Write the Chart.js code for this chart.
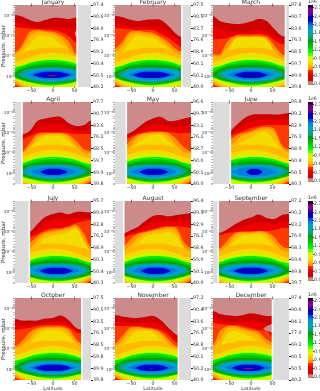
<!DOCTYPE html>
<html lang="en">
<head>
  <meta charset="UTF-8" />
  <title>Monthly pressure-latitude contours</title>
  <script src="https://cdn.jsdelivr.net/npm/chart.js"></script>
  <style>
    html, body { margin: 0; padding: 0; background: #fff; }
    #page { position: relative; width: 320px; height: 391px; overflow: hidden; background: #fff; }
    canvas { position: absolute; filter: blur(0.35px); }
  </style>
</head>
<body>
  <div id="page"></div>
  <script>
    const months = ["January", "February", "March", "April", "May", "June", "July", "August", "September", "October", "November", "December"];
    const lats = [-88, -72, -54, -36, -18, 0, 18, 36, 54, 72, 88];

    // upper edge of each band, log10(pressure) at each latitude
    // last row of each month is the top of the yellow lobe
    const janBands = [
      [-3.05, -2.97, -2.8, -2.7, -2.8, -2.9, -2.9, -2.85, -2.92, -2.95, -2.95],
      [-2.7, -2.63, -2.5, -2.42, -2.42, -2.45, -2.45, -2.42, -2.35, -2.3, -2.3],
      [-2.45, -2.4, -2.37, -2.35, -2.32, -2.3, -2.2, -2, -1.65, -1.6, -1.6],
      [-1.2, -1.55, -2.2, -2.3, -2.25, -2.2, -2.05, -1.75, -1.1, -1.1, -1.1],
      [-1.1, -1.4, -2, -2.2, -2.2, -2.1, -1.9, -1.4, -1, -1, -1],
      [-0.95, -1.1, -1.6, -2, -2, -1.9, -1.6, -1.15, -0.85, -0.8, -0.8]
    ];
    const febBands = [
      [-3, -2.95, -2.82, -2.75, -2.8, -2.82, -2.8, -2.5, -2.1, -1.88, -1.88],
      [-2.65, -2.6, -2.5, -2.45, -2.45, -2.45, -2.4, -2.15, -1.9, -1.7, -1.7],
      [-2.4, -2.38, -2.35, -2.3, -2.3, -2.3, -2.1, -1.9, -1.6, -1.4, -1.4],
      [-1.4, -1.7, -2.2, -2.25, -2.2, -2.15, -1.95, -1.7, -1.35, -1.2, -1.2],
      [-1.2, -1.5, -2.05, -2.15, -2.1, -2.05, -1.85, -1.5, -1.15, -1.05, -1.05],
      [-1, -1.2, -1.7, -2, -1.95, -1.9, -1.65, -1.25, -0.9, -0.85, -0.85]
    ];
    const marBands = [
      [-3, -2.75, -2.65, -2.6, -2.63, -2.72, -2.85, -2.75, -2.35, -2, -2],
      [-2.5, -2.35, -2.25, -2.2, -2.2, -2.25, -2.3, -2.2, -2, -1.75, -1.75],
      [-1.85, -1.85, -1.9, -2.05, -2.1, -2.1, -2.1, -2.05, -1.8, -1.6, -1.6],
      [-1.1, -1.1, -1.75, -2, -2.02, -2.02, -2.02, -1.95, -1.55, -1.1, -1.1],
      [-1, -1, -1.45, -1.9, -1.95, -1.95, -1.95, -1.85, -1.3, -0.95, -0.95],
      [-0.9, -0.9, -1.25, -1.85, -1.95, -1.95, -1.95, -1.8, -1.2, -0.85, -0.85]
    ];
    const aprBands = [
      [-1.93, -1.93, -2.1, -2.6, -2.72, -2.8, -2.8, -2.5, -2.35, -2.4, -2.62],
      [-1.8, -1.8, -1.95, -2.3, -2.4, -2.45, -2.45, -2.25, -2.1, -2.1, -2.2],
      [-1.7, -1.7, -1.85, -2, -2.05, -2.05, -2.05, -2, -1.95, -1.95, -1.95],
      [-1.05, -1.05, -1.5, -1.95, -2, -2, -2, -1.9, -1.6, -1.2, -1.1],
      [-0.98, -1, -1.3, -1.8, -1.92, -1.95, -1.95, -1.8, -1.35, -1, -1],
      [-0.9, -0.9, -1.1, -1.6, -1.85, -1.87, -1.87, -1.6, -1.1, -0.9, -0.9]
    ];
    const mayBands = [
      [-1.85, -1.85, -2, -2.25, -2.55, -2.72, -2.8, -2.6, -2.62, -2.72, -2.78],
      [-1.75, -1.75, -1.85, -2.05, -2.3, -2.4, -2.45, -2.35, -2.3, -2.35, -2.35],
      [-1.65, -1.65, -1.8, -1.95, -2.05, -2.1, -2.1, -2.05, -2, -2, -2],
      [-1.1, -1.1, -1.6, -1.9, -2, -2.05, -2.05, -2, -1.7, -1.3, -1.1],
      [-1, -1, -1.3, -1.8, -1.95, -2, -2, -1.85, -1.4, -1.05, -1],
      [-0.9, -0.9, -1.1, -1.5, -1.8, -1.9, -1.9, -1.6, -1.1, -0.9, -0.9]
    ];
    const junBands = [
      [-2, -2, -2, -2.35, -2.7, -2.9, -2.93, -2.93, -2.92, -2.95, -3],
      [-1.9, -1.9, -1.9, -2.1, -2.35, -2.55, -2.65, -2.65, -2.65, -2.7, -2.72],
      [-1.8, -1.8, -1.8, -1.95, -2.1, -2.25, -2.35, -2.4, -2.4, -2.4, -2.4],
      [-1.6, -1.6, -1.6, -1.85, -2, -2.1, -2.25, -2.3, -2.2, -1.4, -1.2],
      [-1.3, -1.3, -1.3, -1.6, -1.9, -2, -2.15, -2.2, -2.05, -1.25, -1.05],
      [-1.1, -1.1, -1.1, -1.3, -1.6, -1.8, -2, -2.05, -1.6, -1, -0.85]
    ];
    const julBands = [
      [-2, -2, -2, -2.4, -2.75, -2.9, -2.97, -2.88, -3, -3, -2.97],
      [-1.9, -1.9, -1.9, -2.1, -2.45, -2.6, -2.65, -2.65, -2.7, -2.7, -2.7],
      [-1.75, -1.75, -1.75, -1.9, -2.1, -2.2, -2.2, -2.3, -2.45, -2.55, -2.6],
      [-1.5, -1.5, -1.5, -1.8, -2, -2.1, -2.15, -2.25, -2.35, -1.9, -1.3],
      [-1.15, -1.15, -1.15, -1.6, -1.9, -2, -2.05, -2.15, -2.25, -1.6, -1.1],
      [-1, -1, -1, -1.3, -1.7, -1.85, -1.9, -2, -2.15, -1.55, -0.95]
    ];
    const augBands = [
      [-1.9, -1.9, -2.07, -2.25, -2.55, -2.8, -2.85, -2.78, -2.85, -2.9, -2.95],
      [-1.8, -1.8, -1.95, -2.05, -2.3, -2.5, -2.55, -2.55, -2.55, -2.6, -2.6],
      [-1.7, -1.7, -1.85, -1.95, -2.05, -2.15, -2.25, -2.3, -2.3, -2.25, -2.2],
      [-1.2, -1.2, -1.6, -1.9, -2, -2.1, -2.2, -2.25, -2.2, -1.5, -1.2],
      [-1.05, -1.05, -1.3, -1.7, -1.95, -2.05, -2.1, -2.15, -2.05, -1.25, -1.05],
      [-0.9, -0.9, -1.1, -1.45, -1.8, -1.9, -1.95, -2, -1.8, -1.05, -0.9]
    ];
    const sepBands = [
      [-1.95, -1.95, -2.15, -2.4, -2.6, -2.72, -2.87, -2.7, -2.65, -2.85, -2.9],
      [-1.85, -1.85, -2, -2.15, -2.3, -2.4, -2.5, -2.45, -2.4, -2.5, -2.55],
      [-1.8, -1.85, -1.95, -2, -2.05, -2.05, -2.05, -2.05, -2.1, -2.2, -2.2],
      [-1.2, -1.2, -1.6, -1.95, -2, -2, -2.05, -2, -1.75, -1.3, -1.2],
      [-1.05, -1.05, -1.35, -1.85, -1.95, -1.95, -2, -1.9, -1.5, -1.1, -1],
      [-0.9, -0.9, -1.1, -1.6, -1.85, -1.87, -1.9, -1.7, -1.1, -0.9, -0.9]
    ];
    const octBands = [
      [-2.5, -2.42, -2.42, -2.42, -2.52, -2.55, -2.67, -2.45, -2.05, -1.95, -1.95],
      [-2.25, -2.2, -2.2, -2.25, -2.3, -2.35, -2.4, -2.25, -1.95, -1.8, -1.8],
      [-1.95, -2, -2.05, -2.15, -2.2, -2.2, -2.2, -2.1, -1.85, -1.75, -1.75],
      [-1.15, -1.4, -1.85, -2.05, -2.12, -2.12, -2.12, -2, -1.5, -1.2, -1.2],
      [-1.05, -1.2, -1.55, -1.95, -2.05, -2.05, -2.05, -1.85, -1.3, -1.05, -1.05],
      [-0.92, -1, -1.25, -1.75, -1.92, -1.95, -1.92, -1.65, -1.1, -0.9, -0.9]
    ];
    const novBands = [
      [-2.7, -2.63, -2.58, -2.55, -2.6, -2.65, -2.45, -2.05, -1.72, -1.55, -1.55],
      [-2.4, -2.35, -2.3, -2.3, -2.3, -2.35, -2.2, -1.9, -1.5, -1.4, -1.4],
      [-2.15, -2.15, -2.15, -2.15, -2.1, -2.05, -1.95, -1.7, -1.35, -1.2, -1.2],
      [-1.3, -1.65, -2.05, -2.1, -2.05, -2, -1.85, -1.5, -1.15, -1.1, -1.1],
      [-1.15, -1.4, -1.9, -2, -2, -1.95, -1.75, -1.3, -1.05, -1, -1],
      [-1, -1.15, -1.6, -1.9, -1.9, -1.85, -1.5, -1.1, -0.9, -0.85, -0.85]
    ];
    const decBands = [
      [-2.9, -2.75, -2.68, -2.65, -2.7, -2.78, -2.72, -2.65, -2.65, -2.65, -2.65],
      [-2.6, -2.45, -2.35, -2.35, -2.35, -2.4, -2.35, -2.2, -1.85, -1.8, -1.8],
      [-2.3, -2.25, -2.2, -2.2, -2.15, -2.05, -1.95, -1.9, -1.5, -1.5, -1.5],
      [-1.25, -1.9, -2.15, -2.15, -2.05, -1.95, -1.85, -1.5, -1.3, -1.2, -1.2],
      [-1.1, -1.5, -2.05, -2.05, -1.95, -1.85, -1.7, -1.3, -1.15, -1.1, -1.1],
      [-0.95, -1.2, -1.8, -1.9, -1.8, -1.65, -1.4, -1.05, -0.95, -0.9, -0.9]
    ];
    const monthBands = [janBands, febBands, marBands, aprBands, mayBands, junBands, julBands, augBands, sepBands, octBands, novBands, decBands];

    // lower edges of the red to amber bands, only the corners show
    const lowerBands = [
      [0.7, 0.7, 0.7, 0.7, 0.7, 0.7, 0.7, 0.7, 0.7, 0.7, 0.7],
      [0.7, 0.7, 0.7, 0.7, 0.7, 0.7, 0.7, 0.7, 0.7, 0.7, 0.7],
      [0.46, 0.62, 0.7, 0.7, 0.7, 0.7, 0.7, 0.7, 0.7, 0.62, 0.46],
      [0.38, 0.55, 0.7, 0.7, 0.7, 0.7, 0.7, 0.7, 0.7, 0.55, 0.38],
      [0.3, 0.47, 0.62, 0.7, 0.7, 0.7, 0.7, 0.7, 0.62, 0.47, 0.3]
    ];
    const bandColors = ["#ce0000", "#ee0000", "#ff3a00", "#ff9200", "#ffba00"];

    const YELLOW = "#f4dc00";
    // underside of the yellow lobe, amber shows between it and the arc below
    const lobeBottom = [-1.1, -1.2, -1.3, -1.38, -1.42, -1.42, -1.42, -1.38, -1.3, -1.2, -1.1];
    const arcTop = [-0.72, -0.8, -0.95, -1.07, -1.14, -1.17, -1.14, -1.07, -0.95, -0.8, -0.72];
    const arcBottom = [0.2, 0.38, 0.53, 0.65, 0.7, 0.7, 0.7, 0.65, 0.53, 0.38, 0.2];
    const limeTop = [-0.52, -0.6, -0.75, -0.86, -0.93, -0.95, -0.93, -0.86, -0.75, -0.6, -0.52];
    const limeBottom = [0.1, 0.27, 0.43, 0.55, 0.62, 0.65, 0.62, 0.55, 0.43, 0.27, 0.1];

    // the closed contours round the maximum near 1 mbar
    const coreColors = ["#00ee00", "#00c700", "#00a200", "#00a880", "#00a0d8", "#007ddd"];
    const coreLats = [
      [-110, -72, -40, 0, 40, 72, 110],
      [-95, -72, -40, 0, 40, 72, 95],
      [-90, -70, -40, 0, 40, 70, 90],
      [-80, -62, -35, 0, 35, 62, 80],
      [-70, -52, -28, 0, 28, 52, 70],
      [-55, -40, -22, 0, 22, 40, 55]
    ];
    const coreTop = [
      [-0.3, -0.52, -0.73, -0.82, -0.73, -0.52, -0.3],
      [-0.1, -0.42, -0.62, -0.7, -0.62, -0.42, -0.1],
      [-0.1, -0.36, -0.52, -0.58, -0.52, -0.36, -0.1],
      [-0.1, -0.32, -0.43, -0.46, -0.43, -0.32, -0.1],
      [-0.1, -0.28, -0.36, -0.39, -0.36, -0.28, -0.1],
      [-0.1, -0.22, -0.29, -0.31, -0.29, -0.22, -0.1]
    ];
    const coreBottom = [
      [-0.05, 0.1, 0.33, 0.44, 0.33, 0.1, -0.05],
      [0, 0.17, 0.33, 0.39, 0.33, 0.17, 0],
      [-0.1, 0.12, 0.27, 0.34, 0.27, 0.12, -0.1],
      [-0.1, 0.1, 0.24, 0.3, 0.24, 0.1, -0.1],
      [-0.1, 0.07, 0.18, 0.23, 0.18, 0.07, -0.1],
      [-0.1, 0.03, 0.12, 0.15, 0.12, 0.03, -0.1]
    ];
    const coreCentre = [-3, -3, 0, 2, 2, 8, 8, 6, 0, 0, -3, -6];

    // innermost lenses, half width in degrees per month
    const deepWidths = [
      [43, 44, 39, 32, 34, 19, 39, 35, 40, 44, 39, 39],
      [25, 22, 30, 20, 16, 12, 25, 20, 30, 26, 22, 28],
      [10, 0, 0, 0, 0, 0, 0, 0, 0, 0, 3, 14]
    ];
    const deepColors = ["#0000d8", "#0000b6", "#850095"];
    const deepFrac = [-1, -0.6, 0, 0.6, 1];
    const deepTop = [
      [-0.08, -0.2, -0.23, -0.2, -0.08],
      [-0.05, -0.12, -0.15, -0.12, -0.05],
      [-0.04, -0.07, -0.08, -0.07, -0.04]
    ];
    const deepBottom = [
      [-0.08, 0.04, 0.08, 0.04, -0.08],
      [-0.05, 0.03, 0.05, 0.03, -0.05],
      [-0.04, -0.01, 0, -0.01, -0.04]
    ];

    // small patches of the lowest level inside the red
    const holeMonths = [0, 11];
    const holeLats = [[50, 53, 58, 58, 53, 50], [28, 38, 52, 52, 38, 28]];
    const holeValues = [[-2.15, -2.25, -2.25, -1.95, -1.98, -2.15], [-2.02, -2.15, -2.25, -1.85, -1.9, -2.02]];

    // where the measurements stop, the rest of each panel is grey
    const dataMin = [-88, -88, -88, -70, -60, -46, -53, -66, -74, -88, -88, -88];
    const dataMax = [54, 65, 78, 88, 88, 88, 88, 88, 88, 65, 57, 48];

    const altTicks = [
      ["97.4", "90.6", "84.0", "76.9", "69.1", "60.4", "50.5", "40.2"],
      ["97.5", "90.5", "83.7", "76.6", "68.9", "60.1", "50.1", "40.0"],
      ["97.8", "90.7", "83.6", "76.3", "68.5", "59.7", "49.9", "39.8"],
      ["97.7", "90.7", "83.6", "76.2", "68.5", "59.7", "49.9", "39.8"],
      ["96.6", "89.7", "83.1", "76.1", "68.7", "60.0", "50.1", "40.0"],
      ["95.8", "89.2", "82.9", "76.3", "68.9", "60.4", "50.5", "40.3"],
      ["95.7", "89.0", "82.8", "76.2", "68.9", "60.3", "50.4", "40.3"],
      ["96.4", "89.5", "82.9", "76.1", "68.6", "59.9", "50.1", "40.0"],
      ["97.2", "90.2", "83.2", "76.0", "68.3", "59.6", "49.8", "39.7"],
      ["97.5", "90.5", "83.5", "76.3", "68.5", "59.8", "49.9", "39.8"],
      ["97.2", "90.4", "83.6", "76.5", "68.8", "60.1", "50.2", "40.0"],
      ["97.4", "90.6", "84.1", "77.0", "69.2", "60.5", "50.5", "40.2"]
    ];
    const latTicks = [-50, 0, 50];

    // one colour per 0.1e6 step of the colour bar, lowest first
    const cbarStep = 0.1;
    const cbarColors = ["#cc8383", "#ce0000", "#d90000", "#ee0000", "#ff2000", "#ff9200", "#ffba00", "#f9d800", "#eaf000", "#c4fd00",
      "#5dff00", "#00f800", "#00df00", "#00c700", "#00af00", "#009b0b", "#00a66b", "#00aa99", "#00a5b4", "#009ada",
      "#0085dd", "#004ddd", "#0000d8", "#0000b6", "#4400a0", "#850095", "#780089", "#2b0031"];

    const FONT = "'DejaVu Sans', sans-serif";
    const TEXT = "#333";
    const TICK_SIZE = 4.7;
    const colLeft = [15, 115, 213];
    const rowTop = [5, 102, 201, 298];
    const plotW = 76, plotH = 82, sideW = 15, titleH = 6, belowH = 12;
    const yMin = Math.pow(10, -3.54), yMax = Math.pow(10, 0.52);
    const page = document.getElementById("page");

    function addCanvas(left, top, w, h) {
      const c = document.createElement("canvas");
      c.width = w; c.height = h;
      c.style.left = left + "px"; c.style.top = top + "px";
      c.style.width = w + "px"; c.style.height = h + "px";
      page.appendChild(c);
      return c;
    }

    function pt(lat, e) { return { x: lat, y: Math.pow(10, e) }; }

    function shape(points, color, tension) {
      return { data: points, backgroundColor: color, borderWidth: 0, pointRadius: 0, fill: "shape", tension: tension, yAxisID: "y" };
    }

    function rect(a, b, color) {
      return shape([{ x: a, y: yMin }, { x: b, y: yMin }, { x: b, y: yMax }, { x: a, y: yMax }], color, 0);
    }

    // top curve west to east then bottom curve back, extended past the plot edge
    function region(xs, top, bottom, color) {
      const up = xs.map((x, i) => pt(x, top[i]));
      const down = xs.map((x, i) => pt(x, bottom[i])).reverse();
      return shape(up.concat(down), color, 0.35);
    }

    function wideRegion(top, bottom, color) {
      const xs = [-120].concat(lats, [120]);
      const t = [top[0]].concat(top, [top[top.length - 1]]);
      const b = [bottom[0]].concat(bottom, [bottom[bottom.length - 1]]);
      return region(xs, t, b, color);
    }

    function panelDatasets(m) {
      const sets = [rect(-88, 88, "#cc8a8a")];
      lowerBands.forEach((low, i) => sets.push(wideRegion(monthBands[m][i], low, bandColors[i])));

      // yellow lobe, pinched shut where it does not reach below its top
      const lobeTop = monthBands[m][5].map((e, i) => Math.min(e, lobeBottom[i]));
      sets.push(wideRegion(lobeTop, lobeBottom, YELLOW));
      sets.push(wideRegion(arcTop, arcBottom, YELLOW));

      const h = holeMonths.indexOf(m);
      if (h >= 0) {
        sets.push(shape(holeLats[h].map((x, i) => pt(x, holeValues[h][i])), "#cc8a8a", 0.3));
      }

      sets.push(wideRegion(limeTop, limeBottom, "#c4fd00"));
      coreColors.forEach((color, i) => {
        const xs = coreLats[i].map(x => x + coreCentre[m]);
        sets.push(region(xs, coreTop[i], coreBottom[i], color));
      });
      deepColors.forEach((color, i) => {
        const w = deepWidths[i][m];
        if (!w) return;
        const xs = deepFrac.map(f => coreCentre[m] + f * w);
        sets.push(region(xs, deepTop[i], deepBottom[i], color));
      });

      if (dataMin[m] > -88) {
        sets.push(rect(-88, dataMin[m], "#fff"));
        sets.push(rect(-88, dataMin[m] - 3.5, "#dcdcdc"));
      }
      if (dataMax[m] < 88) {
        sets.push(rect(dataMax[m], 88, "#fff"));
        sets.push(rect(dataMax[m] + 3.5, 88, "#dcdcdc"));
      }

      // small inward marks along the top edge
      sets.push({
        data: latTicks.map(x => ({ x: x, y: yMin })),
        showLine: false, pointStyle: "line", rotation: 90, pointRadius: 1.5,
        pointBorderColor: "#444", pointBorderWidth: 0.7, yAxisID: "y", clip: false
      });

      sets.forEach((d, i) => { d.order = -i; });
      return sets;
    }

    function powerLabel(v) {
      const e = Math.log10(v);
      if (Math.abs(e - Math.round(e)) > 1e-6) return "";
      const sup = { "-": "⁻", "0": "⁰", "1": "¹", "2": "²", "3": "³" };
      return "10" + String(Math.round(e)).split("").map(c => sup[c]).join("");
    }

    function drawPanel(m) {
      const col = m % 3, row = Math.floor(m / 3);
      const canvas = addCanvas(colLeft[col] - sideW, rowTop[row] - titleH, plotW + 2 * sideW, titleH + plotH + belowH);
      new Chart(canvas.getContext("2d"), {
        type: "line",
        data: { datasets: panelDatasets(m) },
        options: {
          responsive: false,
          animation: false,
          events: [],
          layout: { padding: 0 },
          plugins: {
            legend: { display: false },
            tooltip: { enabled: false },
            title: {
              display: true, text: months[m], color: TEXT,
              font: { family: FONT, size: 6, weight: "normal", lineHeight: 1 },
              padding: { top: 0, bottom: titleH - 6 }
            }
          },
          scales: {
            x: {
              type: "linear", min: -88, max: 88,
              border: { display: false },
              grid: { drawOnChartArea: false, tickLength: 1, tickColor: "#444", tickWidth: 0.7 },
              ticks: {
                stepSize: 50, includeBounds: false, autoSkip: false, maxRotation: 0, padding: 0,
                color: TEXT, font: { family: FONT, size: TICK_SIZE },
                callback: v => String(v).replace("-", "−")
              },
              title: { display: row === 3, text: "Latitude", color: TEXT, font: { family: FONT, size: TICK_SIZE }, padding: 0 },
              afterFit: s => { s.height = belowH; }
            },
            y: {
              type: "logarithmic", position: "left", reverse: true, min: yMin, max: yMax,
              border: { display: false },
              grid: { drawOnChartArea: false, tickLength: 2, tickColor: "#777", tickWidth: 0.5 },
              ticks: {
                autoSkip: false, maxRotation: 0, minRotation: 0, padding: 0, color: TEXT, font: { family: FONT, size: 4.2 },
                callback: powerLabel
              },
              title: { display: col === 0, text: "Pressure, mbar", color: TEXT, font: { family: FONT, size: 5.6 }, padding: 0 },
              afterFit: s => { s.width = sideW; }
            },
            y2: {
              type: "linear", position: "right", reverse: true, min: 0, max: 7,
              border: { display: false },
              grid: { drawOnChartArea: false, tickLength: 2, tickColor: "#222", tickWidth: 1.2 },
              ticks: {
                stepSize: 1, autoSkip: false, maxRotation: 0, minRotation: 0, padding: 0, color: TEXT, font: { family: FONT, size: TICK_SIZE },
                callback: v => altTicks[m][v]
              },
              afterFit: s => { s.width = sideW; }
            }
          }
        }
      });
    }

    // colour bar as nested rectangles painted top level first, so no seams show
    function cbarDatasets() {
      return cbarColors.map((color, i) => {
        const top = (i + 1) * cbarStep;
        return {
          data: [{ x: 0, y: 0 }, { x: 1, y: 0 }, { x: 1, y: top }, { x: 0, y: top }],
          backgroundColor: color, borderWidth: 0, pointRadius: 0, fill: "shape", tension: 0, order: i - cbarColors.length
        };
      }).map((d, i) => { d.order = i; return d; });
    }

    function drawColorbar(row) {
      const canvas = addCanvas(308, rowTop[row] - titleH, 20, titleH + plotH);
      new Chart(canvas.getContext("2d"), {
        type: "line",
        data: { datasets: cbarDatasets() },
        options: {
          responsive: false,
          animation: false,
          events: [],
          layout: { padding: 0 },
          plugins: {
            legend: { display: false },
            tooltip: { enabled: false },
            title: {
              display: true, text: "1e6", color: TEXT, align: "start",
              font: { family: FONT, size: TICK_SIZE, weight: "normal", lineHeight: 1 },
              padding: { top: 0, bottom: titleH - TICK_SIZE }
            }
          },
          scales: {
            x: { type: "linear", min: 0, max: 1, display: false },
            y: {
              position: "right", min: 0, max: 2.8,
              border: { display: false },
              grid: { drawOnChartArea: false, tickLength: 1, tickColor: "#444" },
              ticks: {
                stepSize: 0.3, includeBounds: false, autoSkip: false, maxRotation: 0, minRotation: 0, padding: 0, color: TEXT, font: { family: FONT, size: TICK_SIZE },
                callback: v => v.toFixed(1)
              },
              afterFit: s => { s.width = 15; }
            }
          }
        }
      });
    }

    months.forEach((name, m) => drawPanel(m));
    rowTop.forEach((top, row) => drawColorbar(row));
  </script>
</body>
</html>
